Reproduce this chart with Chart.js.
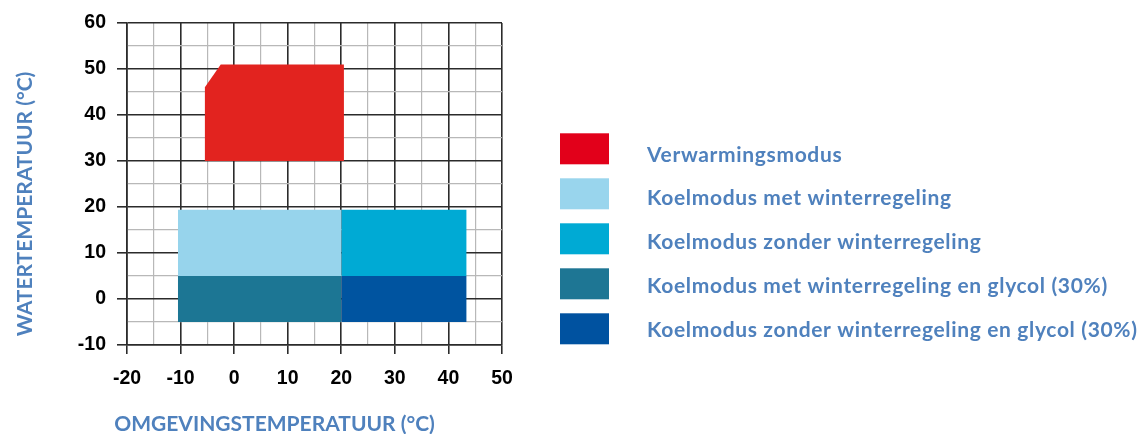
<!DOCTYPE html>
<html>
<head>
<meta charset="utf-8">
<script src="https://cdn.jsdelivr.net/npm/chart.js@4/dist/chart.umd.min.js"></script>
<style>
  html, body { margin: 0; padding: 0; background: #ffffff; }
  #wrap { position: relative; width: 1139px; height: 434px; }
</style>
</head>
<body>
<div id="wrap"><canvas id="chart" width="1139" height="434"></canvas></div>
<script>
// ---------- data (x = ambient temperature °C, y = water temperature °C) ----------
const seriesLabels = [
  'Verwarmingsmodus',
  'Koelmodus met winterregeling',
  'Koelmodus zonder winterregeling',
  'Koelmodus met winterregeling en glycol (30%)',
  'Koelmodus zonder winterregeling en glycol (30%)'
];
// upper boundary of each operating envelope
const heatingTop            = [{x: -5.5, y: 46}, {x: -2.5, y: 51}, {x: 20.5, y: 51}];
const coolWinterTop         = [{x: -10.5, y: 19.4}, {x: 20, y: 19.4}];
const coolNoWinterTop       = [{x: 20, y: 19.4}, {x: 43.4, y: 19.4}];
const coolWinterGlycolTop   = [{x: -10.5, y: 5}, {x: 20, y: 5}];
const coolNoWinterGlycolTop = [{x: 20, y: 5}, {x: 43.4, y: 5}];
// lower boundary (water temperature) of each envelope
const envelopeBase = [30, 5, 5, -5, -5];
// axis ranges / ticks
const xRange = [-20, 50];
const yRange = [-10, 60];
const tickStep = 5;
const labelStep = 10;
const xTitle = 'OMGEVINGSTEMPERATUUR (°C)';
const yTitle = 'WATERTEMPERATUUR (°C)';

// ---------- styles ----------
const fillColors   = ['#e2231f', '#97d4ec', '#00aad4', '#1c7694', '#0054a0'];
const legendColors = ['#e2001a', '#99d5ed', '#00aad4', '#1e7694', '#0052a0'];
const titleBlue = '#4f81bd';
const majorLine = '#2b2b2b';
const minorLine = '#b8b8b8';
const calibriLike = 'Lato, "Open Sans", sans-serif';

const tops = [heatingTop, coolWinterTop, coolNoWinterTop, coolWinterGlycolTop, coolNoWinterGlycolTop];

const datasets = tops.map((pts, i) => ({
  label: seriesLabels[i],
  data: pts,
  showLine: true,
  fill: {value: envelopeBase[i]},
  backgroundColor: fillColors[i],
  borderColor: 'rgba(0,0,0,0)',
  borderWidth: 0,
  pointRadius: 0,
  pointHoverRadius: 0,
  tension: 0
}));

const isMajor = (ctx) => ctx.tick && Math.round(ctx.tick.value) % labelStep === 0;

const tickFont = {family: '"Liberation Sans", Arial, sans-serif', weight: 'bold', size: 19.5};

const textPlugin = {
  id: 'textPlugin',
  afterDraw(chart) {
    const ctx = chart.ctx;
    ctx.save();
    // axis titles
    ctx.fillStyle = titleBlue;
    ctx.font = 'bold 21px ' + calibriLike;
    ctx.textAlign = 'center';
    ctx.textBaseline = 'alphabetic';
    ctx.fillText(xTitle, 274.5, 431);
    ctx.save();
    ctx.translate(32, 204);
    ctx.rotate(-Math.PI / 2);
    ctx.fillText(yTitle, 0, 0);
    ctx.restore();
    // legend
    chart.data.datasets.forEach((ds, i) => {
      ctx.fillStyle = legendColors[i];
      ctx.fillRect(560, 133.3 + i * 45, 49, 31);
      ctx.fillStyle = titleBlue;
      ctx.font = 'bold 21px ' + calibriLike;
      if ('letterSpacing' in ctx) ctx.letterSpacing = '0.65px';
      ctx.textAlign = 'left';
      ctx.textBaseline = 'alphabetic';
      ctx.fillText(ds.label, 647, 161.7 + i * 43.75);
      if ('letterSpacing' in ctx) ctx.letterSpacing = '0px';
    });
    ctx.restore();
  }
};

new Chart(document.getElementById('chart'), {
  type: 'scatter',
  data: {datasets},
  options: {
    responsive: false,
    animation: false,
    layout: {padding: {left: 0, right: 637, top: 23, bottom: 0}},
    plugins: {
      legend: {display: false},
      tooltip: {enabled: false},
      filler: {propagate: false}
    },
    scales: {
      x: {
        type: 'linear',
        min: xRange[0], max: xRange[1],
        afterFit(scale) { scale.height = 89; },
        ticks: {
          stepSize: tickStep,
          autoSkip: false,
          maxRotation: 0,
          padding: 13,
          color: '#000',
          font: tickFont,
          callback: (v) => (Math.round(v) % labelStep === 0 ? String(v) : '')
        },
        grid: {
          color: (c) => (isMajor(c) ? majorLine : minorLine),
          lineWidth: (c) => (isMajor(c) ? 1.6 : 1.2),
          tickColor: (c) => (isMajor(c) ? majorLine : 'rgba(0,0,0,0)'),
          tickWidth: 1.6,
          tickLength: 9
        },
        border: {display: true, color: majorLine, width: 1.6}
      },
      y: {
        type: 'linear',
        min: yRange[0], max: yRange[1],
        afterFit(scale) { scale.width = 127; },
        ticks: {
          stepSize: tickStep,
          autoSkip: false,
          padding: 11,
          color: '#000',
          font: tickFont,
          callback: (v) => (Math.round(v) % labelStep === 0 ? String(v) : '')
        },
        grid: {
          color: (c) => (isMajor(c) ? majorLine : minorLine),
          lineWidth: (c) => (isMajor(c) ? 1.6 : 1.2),
          tickColor: (c) => (isMajor(c) ? majorLine : 'rgba(0,0,0,0)'),
          tickWidth: 1.6,
          tickLength: 10
        },
        border: {display: true, color: majorLine, width: 1.6}
      }
    }
  },
  plugins: [textPlugin]
});
</script>
</body>
</html>
